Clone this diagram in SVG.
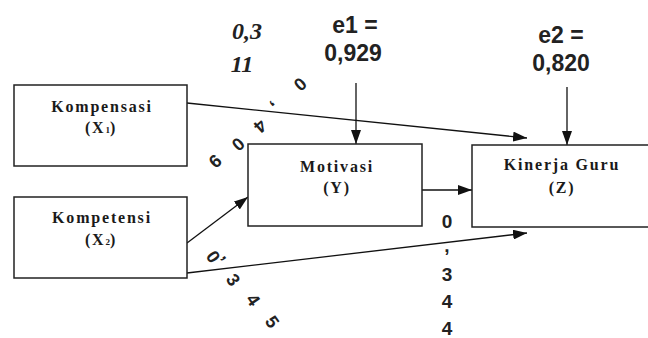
<svg xmlns="http://www.w3.org/2000/svg" width="648" height="338" viewBox="0 0 648 338">
<defs>
<style>
.box{fill:#fff;stroke:#222;stroke-width:1.5}
.lbl{font-family:'Liberation Serif','DejaVu Serif','Times New Roman',serif;font-weight:700;font-size:16px;letter-spacing:1.8px;fill:#1a1a1a;text-anchor:middle}
.sub{font-size:9px;letter-spacing:0}
.num{font-family:'Liberation Sans','DejaVu Sans',Arial,sans-serif;font-weight:700;font-size:23px;fill:#222;text-anchor:middle}
.it{font-family:'Liberation Serif','DejaVu Serif','Times New Roman',serif;font-weight:700;font-style:italic;font-size:24px;fill:#222;text-anchor:middle}
.d{font-family:'Liberation Sans','DejaVu Sans',Arial,sans-serif;font-weight:700;font-size:18px;fill:#222;text-anchor:middle;dominant-baseline:central}
.v{font-family:'Liberation Sans','DejaVu Sans',Arial,sans-serif;font-weight:700;font-size:19px;fill:#222;text-anchor:middle}
.ln{stroke:#111;stroke-width:1.3;fill:none;marker-end:url(#ah)}
</style>
<marker id="ah" markerWidth="14" markerHeight="10" refX="14" refY="5" orient="auto" markerUnits="userSpaceOnUse">
<path d="M0,0 L14,5 L0,10 Z" fill="#111"/>
</marker>
</defs>
<rect width="648" height="338" fill="#fff"/>
<g id="connectors">
<line class="ln" x1="187" y1="103" x2="527" y2="138"/>
<line class="ln" x1="187" y1="243" x2="248" y2="197"/>
<line class="ln" x1="187" y1="273" x2="527" y2="233"/>
<line class="ln" x1="422" y1="190" x2="472" y2="190"/>
<line class="ln" x1="356" y1="83" x2="356" y2="144"/>
<line class="ln" x1="567" y1="87" x2="567" y2="145"/>
</g>
<g id="kompensasi">
<rect class="box" x="14" y="85" width="173" height="81"/>
<text class="lbl" x="102" y="112">Kompensasi</text>
<text class="lbl" x="101" y="133">(X<tspan class="sub">1</tspan>)</text>
</g>
<g id="kompetensi">
<rect class="box" x="14" y="197" width="173" height="81"/>
<text class="lbl" x="102" y="223">Kompetensi</text>
<text class="lbl" x="101" y="245">(X<tspan class="sub">2</tspan>)</text>
</g>
<g id="motivasi">
<rect class="box" x="248" y="144" width="174" height="82"/>
<text class="lbl" x="337" y="172">Motivasi</text>
<text class="lbl" x="337" y="193">(Y)</text>
</g>
<g id="kinerja">
<rect class="box" x="472" y="145" width="190" height="82"/>
<text class="lbl" x="562" y="170">Kinerja Guru</text>
<text class="lbl" x="562" y="193">(Z)</text>
</g>
<g id="e1">
<text class="num" x="355" y="33">e1 =</text>
<text class="num" x="353" y="61">0,929</text>
</g>
<g id="e2">
<text class="num" x="561" y="43">e2 =</text>
<text class="num" x="561" y="71">0,820</text>
</g>
<g id="label-x1-z">
<text class="it" x="247" y="39">0,3</text>
<text class="it" x="242" y="72">11</text>
<text class="d" x="300" y="84" transform="rotate(138 300 84)">0</text>
</g>
<g id="label-x1-y">
<text class="d" x="276" y="108" transform="rotate(138 276 108)">,</text>
<text class="d" x="260" y="126" transform="rotate(138 260 126)">4</text>
<text class="d" x="238" y="144" transform="rotate(138 238 144)">0</text>
<text class="d" x="215" y="161" transform="rotate(138 215 161)">9</text>
</g>
<g id="label-x2-y">
<text class="d" x="213" y="257" transform="rotate(55 213 257)">0</text>
<text class="d" x="228" y="255" transform="rotate(55 228 255)">,</text>
<text class="d" x="233" y="280" transform="rotate(55 233 280)">3</text>
<text class="d" x="253" y="300" transform="rotate(55 253 300)">4</text>
<text class="d" x="272" y="322" transform="rotate(55 272 322)">5</text>
</g>
<g id="label-x2-z">
<text class="v" x="447" y="228">0</text>
<text class="v" x="447" y="252">,</text>
<text class="v" x="447" y="281">3</text>
<text class="v" x="447" y="308">4</text>
<text class="v" x="447" y="335">4</text>
</g>
</svg>
